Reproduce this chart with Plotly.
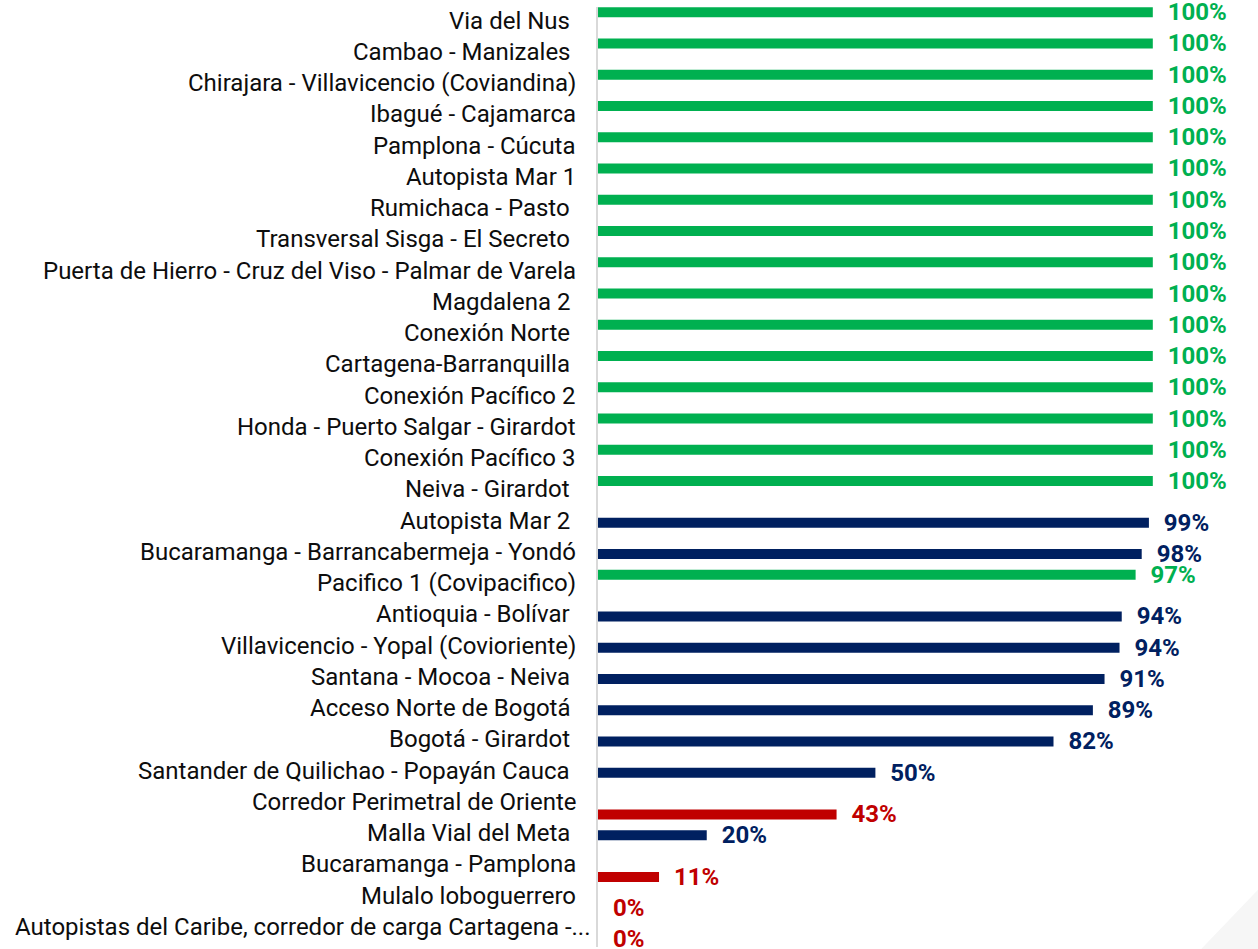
import plotly.graph_objects as go

NBSP = "\u00a0"

categories = [
    "Via del Nus" + NBSP,
    "Cambao - Manizales" + NBSP,
    "Chirajara - Villavicencio (Coviandina)",
    "Ibagué - Cajamarca",
    "Pamplona - Cúcuta",
    "Autopista Mar 1",
    "Rumichaca - Pasto" + NBSP,
    "Transversal Sisga - El Secreto" + NBSP,
    "Puerta de Hierro - Cruz del Viso - Palmar de Varela",
    "Magdalena 2" + NBSP,
    "Conexión Norte" + NBSP,
    "Cartagena-Barranquilla" + NBSP,
    "Conexión Pacífico 2",
    "Honda - Puerto Salgar - Girardot",
    "Conexión Pacífico 3",
    "Neiva - Girardot" + NBSP,
    "Autopista Mar 2" + NBSP,
    "Bucaramanga - Barrancabermeja - Yondó",
    "Pacifico 1 (Covipacifico)",
    "Antioquia - Bolívar" + NBSP,
    "Villavicencio - Yopal (Covioriente)",
    "Santana - Mocoa - Neiva" + NBSP,
    "Acceso Norte de Bogotá" + NBSP,
    "Bogotá - Girardot" + NBSP,
    "Santander de Quilichao - Popayán Cauca" + NBSP,
    "Corredor Perimetral de Oriente",
    "Malla Vial del Meta" + NBSP,
    "Bucaramanga - Pamplona",
    "Mulalo loboguerrero",
    "Autopistas del Caribe, corredor de carga Cartagena -...",
]

green_values = [1.00] * 16 + [None, None, 0.969] + [None] * 11
blue_values = ([None] * 16 + [0.993, 0.980, None, 0.944, 0.940, 0.913, 0.892, 0.821,
                             0.500, None, 0.196, None, None, None])
red_values = [None] * 25 + [0.430, None, 0.110, 0.0, 0.0]

GREEN = "#00B050"
NAVY = "#002060"
RED = "#C00000"

fig = go.Figure()
for vals, col in [(green_values, GREEN), (blue_values, NAVY), (red_values, RED)]:
    fig.add_trace(go.Bar(
        y=categories, x=vals, orientation="h",
        marker=dict(color=col, line=dict(width=0)),
        texttemplate=NBSP + NBSP + "%{x:.0%}",
        textposition="outside",
        textfont=dict(family="Roboto", size=24, color=col, weight="bold"),
        constraintext="none",
        cliponaxis=False,
        hoverinfo="skip",
        showlegend=False,
    ))

annotations = []
for i, c in enumerate(categories):
    last = i == len(categories) - 1
    annotations.append(dict(
        x=0, y=c, xref="x", yref="y", text=c, showarrow=False,
        xanchor="right", yanchor="middle",
        xshift=-5 if last else -20, yshift=2,
        font=dict(family="Roboto", size=24, color="#0d0d0d"),
    ))

fig.update_layout(
    width=1258, height=949,
    margin=dict(l=598, r=2, t=7, b=2, autoexpand=False),
    paper_bgcolor="white", plot_bgcolor="white",
    barmode="group", bargap=0.0, bargroupgap=0.04,
    annotations=annotations,
    xaxis=dict(range=[0, 1.186], visible=False, fixedrange=True),
    yaxis=dict(autorange="reversed", showticklabels=False, showgrid=False,
               zeroline=False, ticks="", showline=True, linecolor="#d9d9d9",
               linewidth=2, type="category", fixedrange=True),
    shapes=[dict(type="path", xref="paper", yref="paper",
                 path="M 1.01 0.066 L 1.01 -0.01 L 0.906 -0.01 Z",
                 fillcolor="#f6f6f6", line=dict(width=0), layer="below")],
)

fig.write_html("out.html", config={"displayModeBar": False},
               post_script="document.body.style.margin='0';")
